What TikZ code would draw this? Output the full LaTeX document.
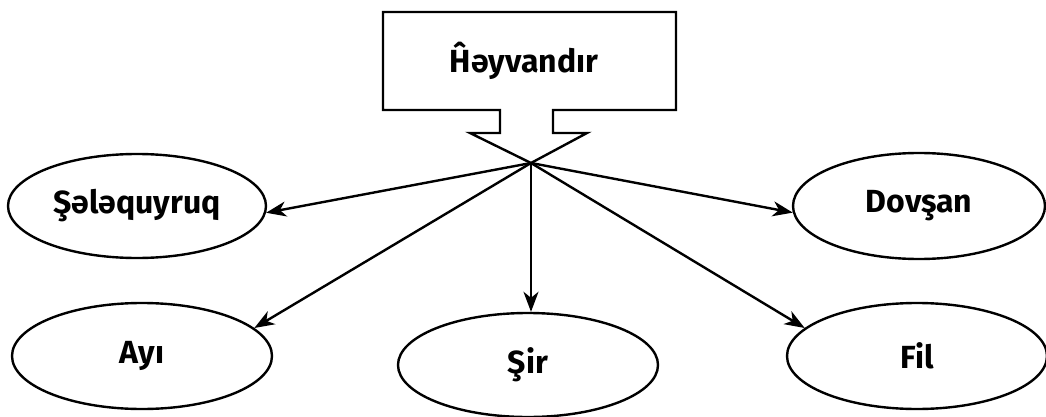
\documentclass[tikz,border=0pt]{standalone}
\usepackage{fontspec}
\setmainfont{Fira Sans}
\usetikzlibrary{shapes.geometric,arrows.meta}
\begin{document}
\begin{tikzpicture}[x=1pt,y=-1pt,
  animal/.style={ellipse,draw,line width=2.4pt,inner sep=0pt,font=\fontsize{32}{38}\selectfont\bfseries},
  link/.style={line width=2.4pt,-{Stealth[length=20pt,width=15pt,inset=6pt]}},
  boxline/.style={line width=2.4pt,line join=miter}]
\useasboundingbox (0,0) rectangle (1046,417);
\draw[boxline] (383,12) -- (676,12) -- (676,110) -- (553,110) -- (553,133) -- (587,133)
  -- (531,163) -- (470,133) -- (500,133) -- (500,110) -- (383,110) -- cycle;
\node[font=\fontsize{32}{38}\selectfont\bfseries] (title) at (524,61) {Ĥəyvandır};
\coordinate (apex) at (531,163);
\node[animal,minimum width=258pt,minimum height=104pt] (sal) at (137,206) {Şələquyruq};
\node[animal,minimum width=252pt,minimum height=106pt] (dov) at (919,206) {Dovşan};
\node[animal,minimum width=260pt,minimum height=106pt] (ayi) at (142,356) {Ayı};
\node[animal,minimum width=260pt,minimum height=104pt] (sir) at (528,365) {Şir};
\node[animal,minimum width=260pt,minimum height=106pt] (fil) at (917,356) {Fil};
\draw[link] (apex) -- (sal.-3);
\draw[link] (apex) -- (dov.183);
\draw[link] (apex) -- (ayi.14);
\draw[link] (apex) -- (apex |- sir.north);
\draw[link] (apex) -- (fil.166);
\end{tikzpicture}
\end{document}
